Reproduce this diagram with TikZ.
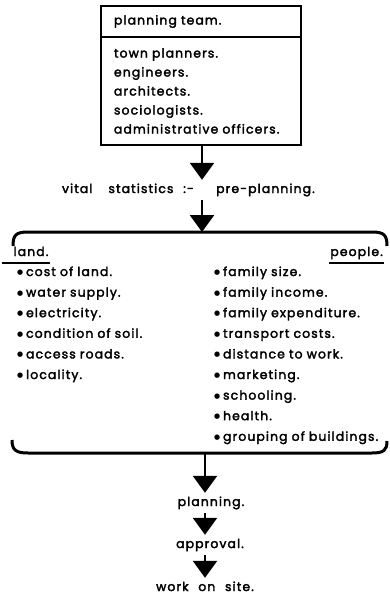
\documentclass[tikz,border=0pt]{standalone}
\usepackage{fontspec}
\setmainfont{Poppins}[LetterSpace=9,WordSpace=2.2,FakeBold=2.5]
\newfontfamily\symfont{DejaVu Sans}
\newcommand{\dotmark}{\raisebox{1.6pt}{\symfont\fontsize{7}{7}\selectfont ●}\hspace{3pt}}
\usetikzlibrary{positioning,arrows.meta}

\begin{document}
\begin{tikzpicture}[x=1pt,y=1pt,>={Triangle[width=24pt,length=17pt]},node distance=20.6pt,
every node/.style={font=\fontsize{12.4}{19}\selectfont},
teambox/.style={draw,line width=2.2pt,minimum width=200pt,text width=174pt,align=left},
item/.style={text width=182pt,align=left,text height=9pt,text depth=3pt,inner sep=0pt},
stage/.style={text height=9pt,text depth=3pt,inner xsep=1pt,inner ysep=4pt},
flow/.style={->,line width=2.6pt},
brace/.style={line width=3pt}]
\useasboundingbox (0,0) rectangle (390,-596);

\node[teambox,minimum height=31pt](team) at (201,-21.5){planning team.};
\node[teambox,minimum height=108pt](staff) at (201,-91){town planners.\\engineers.\\architects.\\sociologists.\\administrative officers.};

\node[stage,anchor=east](stats) at (195,-190){vital\hspace{16pt}statistics :-};
\node[stage,anchor=west](pre) at (215,-190){pre-planning.};

\coordinate (bt) at (202,-232);
\coordinate (bb) at (205,-453);
\draw[brace] (13,-246) .. controls (13,-235) and (16,-232) .. (28,-232) -- (bt) -- (372,-232) .. controls (384,-232) and (387,-235) .. (387,-246);
\draw[brace] (12,-440) .. controls (12,-450) and (16,-453) .. (28,-453) -- (bb) -- (372,-453) .. controls (384,-453) and (387,-450) .. (387,-441);

\node[stage](land) at (31,-253){land.};
\node[stage,anchor=east](people) at (384,-253){people.};
\draw[line width=1.6pt] ([xshift=-10pt]land.south west) -- (land.south east);
\draw[line width=1.6pt] (people.south west) -- (people.south east);

\node[item](l1) at (108,-273){\dotmark cost of land.};
\node[item][below of=l1](l2){\dotmark water supply.};
\node[item][below of=l2](l3){\dotmark electricity.};
\node[item][below of=l3](l4){\dotmark condition of soil.};
\node[item][below of=l4](l5){\dotmark access roads.};
\node[item][below of=l5](l6){\dotmark locality.};

\node[item](p1) at (305,-273){\dotmark family size.};
\node[item][below of=p1](p2){\dotmark family income.};
\node[item][below of=p2](p3){\dotmark family expenditure.};
\node[item][below of=p3](p4){\dotmark transport costs.};
\node[item][below of=p4](p5){\dotmark distance to work.};
\node[item][below of=p5](p6){\dotmark marketing.};
\node[item][below of=p6](p7){\dotmark schooling.};
\node[item][below of=p7](p8){\dotmark health.};
\node[item][below of=p8](p9){\dotmark grouping of buildings.};

\node[stage](plan) at (211,-503){planning.};
\node[stage](appr) at (210,-545){approval.};
\node[stage](site) at (205,-588){work on site.};

\path[flow] (staff.south -| bt) edge (stats.north -| bt)
      (stats.south -| bt) edge (bt)
      (bb) edge (plan.north -| bb)
      (plan.south -| bb) edge (appr.north -| bb)
      (appr.south -| bb) edge (site.north -| bb)
;
\end{tikzpicture}
\end{document}
